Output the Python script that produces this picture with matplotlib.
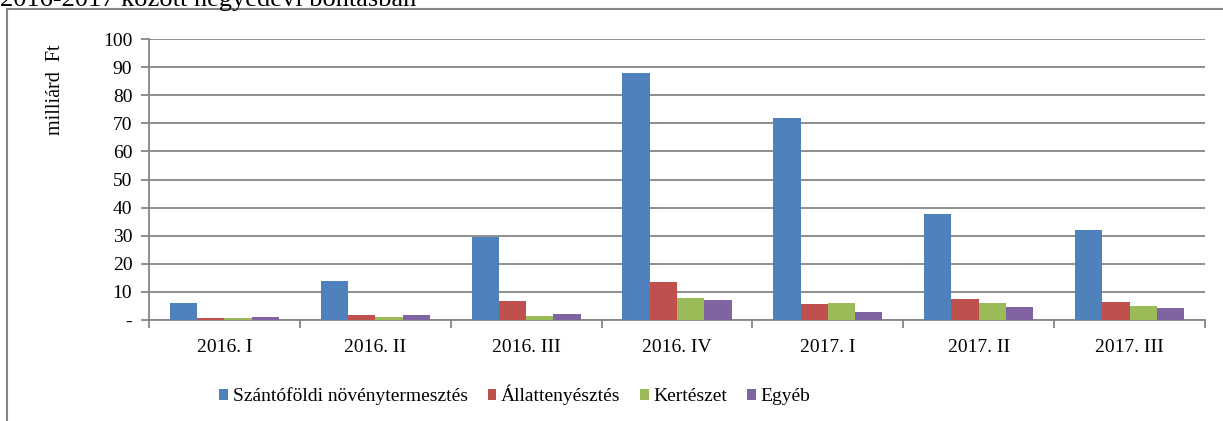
import matplotlib
matplotlib.use('Agg')
import matplotlib.pyplot as plt
from matplotlib.lines import Line2D
import numpy as np

plt.rcParams['font.family'] = ['Liberation Serif', 'DejaVu Serif']

# data (milliárd Ft)
quarters = ['2016. I', '2016. II', '2016. III', '2016. IV',
            '2017. I', '2017. II', '2017. III']
series_names = ['Szántóföldi növénytermesztés', 'Állattenyésztés',
                'Kertészet', 'Egyéb']
szantofoldi = [6.1, 13.8, 29.4, 87.8, 71.9, 37.8, 32.1]
allattenyesztes = [0.6, 1.7, 6.6, 13.6, 5.8, 7.3, 6.3]
kerteszet = [0.6, 1.0, 1.6, 7.7, 6.2, 6.2, 4.9]
egyeb = [0.9, 1.7, 2.3, 7.0, 2.9, 4.7, 4.4]
yticks = [0, 10, 20, 30, 40, 50, 60, 70, 80, 90, 100]
ytick_labels = ['-'] + [str(v) for v in yticks[1:]]
colors = ['#4F81BD', '#C0504D', '#9BBB59', '#8064A2']

W, H = 1223, 421
fig = plt.figure(figsize=(W / 100, H / 100), dpi=100)

# plot area in pixels: x 149..1205, y 39..320
ax = fig.add_axes([149 / W, (H - 320) / H, (1205 - 149) / W, (320 - 39) / H])

grid_col = '#868686'
x = np.arange(len(quarters))
bw = 0.181
all_series = [szantofoldi, allattenyesztes, kerteszet, egyeb]
for k, (vals, name, col) in enumerate(zip(all_series, series_names, colors)):
    ax.bar(x + (k - 1.5) * bw, vals, width=bw, color=col, label=name,
           zorder=3)

ax.set_xlim(-0.5, len(quarters) - 0.5)
ax.set_ylim(0, 100)
ax.set_yticks(yticks)
ax.set_yticklabels(ytick_labels, fontsize=14)
ax.yaxis.grid(True, color=grid_col, linewidth=1.3, zorder=0)

# category boundaries get the tick marks, labels sit in the middle
ax.set_xticks(np.arange(-0.5, len(quarters), 1.0))
ax.set_xticklabels([])
ax.set_xticks(x, minor=True)
ax.set_xticklabels(quarters, minor=True, fontsize=14)
ax.tick_params(axis='x', which='minor', length=0, pad=14)
ax.tick_params(axis='x', which='major', length=6, width=1.3, color=grid_col)
ax.tick_params(axis='y', length=6, width=1.3, color=grid_col, pad=6)

for side in ['top', 'right']:
    ax.spines[side].set_visible(False)
for side in ['left', 'bottom']:
    ax.spines[side].set_color(grid_col)
    ax.spines[side].set_linewidth(1.3)

fig.text(55 / W, 1 - 90 / H, 'milliárd  Ft', rotation=90, fontsize=14.5,
         ha='center', va='center')

# title, cut off at the top of the picture as in the source
fig.text(0, 1 - 5.7 / H, '2016-2017 között negyedévi bontásban',
         fontsize=19, ha='left', va='baseline')

# outer frame (left and top edges visible)
fig.add_artist(Line2D([7 / W, 7 / W], [0, 1 - 9.3 / H], color=grid_col,
                      linewidth=1.5, transform=fig.transFigure))
fig.add_artist(Line2D([7 / W, 1], [1 - 9.3 / H, 1 - 9.3 / H],
                      color=grid_col, linewidth=1.5,
                      transform=fig.transFigure))

leg = fig.legend(loc='center', bbox_to_anchor=(515 / W, 1 - 395 / H),
                 ncol=4, frameon=False, fontsize=14, handlelength=0.45,
                 handleheight=0.45, handletextpad=0.25, columnspacing=1.0)

fig.savefig('out.png', dpi=100)
